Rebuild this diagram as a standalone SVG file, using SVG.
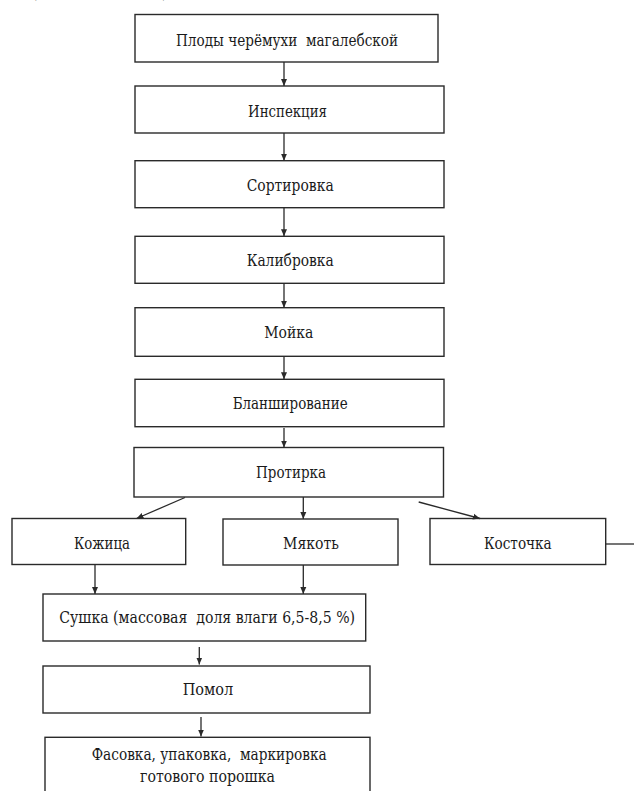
<svg xmlns="http://www.w3.org/2000/svg" width="634" height="791" viewBox="0 0 634 791">
<style>
.box{fill:#fff;stroke:#2a2a2a;stroke-width:1.4}
text{font-family:"DejaVu Serif",serif;font-size:16px;fill:#1a1a1a;white-space:pre}
.c{stroke:#2a2a2a;stroke-width:1.3;fill:none}
.a{marker-end:url(#ah)}
</style>
<defs>
<marker id="ah" markerUnits="userSpaceOnUse" markerWidth="8" markerHeight="8" viewBox="0 0 8 8" refX="7" refY="4" orient="auto">
<path d="M0,1 L7,4 L0,7 Z" fill="#2a2a2a"/>
</marker>
</defs>
<rect width="634" height="791" fill="#fff"/>
<text x="31" y="-2">(</text>
<text x="162" y="-2">)</text>
<g id="n1"><rect class="box" x="135" y="14.5" width="303" height="47.5"/><text x="176" y="46" textLength="222" lengthAdjust="spacingAndGlyphs">Плоды черёмухи  магалебской</text></g>
<g id="n2"><rect class="box" x="135" y="86" width="309" height="47"/><text x="248" y="117" textLength="79" lengthAdjust="spacingAndGlyphs">Инспекция</text></g>
<g id="n3"><rect class="box" x="135" y="160.7" width="309" height="47"/><text x="246.7" y="191" textLength="87" lengthAdjust="spacingAndGlyphs">Сортировка</text></g>
<g id="n4"><rect class="box" x="135" y="236.3" width="309" height="47"/><text x="246.7" y="266" textLength="87" lengthAdjust="spacingAndGlyphs">Калибровка</text></g>
<g id="n5"><rect class="box" x="135" y="307.7" width="309" height="48.6"/><text x="264.3" y="337.5" textLength="49" lengthAdjust="spacingAndGlyphs">Мойка</text></g>
<g id="n6"><rect class="box" x="135" y="379.3" width="309" height="47.4"/><text x="232.7" y="409" textLength="115" lengthAdjust="spacingAndGlyphs">Бланширование</text></g>
<g id="n7"><rect class="box" x="134" y="447.5" width="309.5" height="49.5"/><text x="256" y="478" textLength="70" lengthAdjust="spacingAndGlyphs">Протирка</text></g>
<g id="n8"><rect class="box" x="12" y="518.5" width="173.7" height="46"/><text x="74" y="548.5" textLength="56" lengthAdjust="spacingAndGlyphs">Кожица</text></g>
<g id="n9"><rect class="box" x="223" y="519" width="175" height="46"/><text x="283" y="549" textLength="56" lengthAdjust="spacingAndGlyphs">Мякоть</text></g>
<g id="n10"><rect class="box" x="430" y="518.5" width="175.7" height="46"/><text x="484" y="548.5" textLength="67.7" lengthAdjust="spacingAndGlyphs">Косточка</text></g>
<g id="n11"><rect class="box" x="43" y="594" width="322.7" height="47"/><text x="59.3" y="623.3" textLength="295.7" lengthAdjust="spacingAndGlyphs">Сушка (массовая  доля влаги 6,5-8,5 %)</text></g>
<g id="n12"><rect class="box" x="43" y="666" width="327" height="47"/><text x="182.7" y="695" textLength="50.6" lengthAdjust="spacingAndGlyphs">Помол</text></g>
<g id="n13"><rect class="box" x="45" y="737.3" width="325" height="60"/><text x="91.7" y="760" textLength="235" lengthAdjust="spacingAndGlyphs">Фасовка, упаковка,  маркировка</text><text x="140" y="781.7" textLength="135" lengthAdjust="spacingAndGlyphs">готового порошка</text></g>
<g id="connectors">
<line class="c a" x1="284" y1="62" x2="284" y2="86"/>
<line class="c a" x1="284" y1="133" x2="284" y2="160.7"/>
<line class="c a" x1="284" y1="207.7" x2="284" y2="236.3"/>
<line class="c a" x1="284" y1="283.3" x2="284" y2="307.7"/>
<line class="c a" x1="284" y1="356.3" x2="284" y2="379.3"/>
<line class="c a" x1="284" y1="428" x2="284" y2="447.5"/>
<line class="c a" x1="185" y1="497.5" x2="136.5" y2="518.5"/>
<line class="c a" x1="303.3" y1="497" x2="303.3" y2="519"/>
<line class="c a" x1="418.7" y1="502" x2="480" y2="518.5"/>
<line class="c" x1="605.7" y1="544" x2="634" y2="544"/>
<line class="c a" x1="95" y1="564.5" x2="95" y2="594"/>
<line class="c a" x1="303.3" y1="565" x2="303.3" y2="594"/>
<line class="c a" x1="199.3" y1="647" x2="199.3" y2="664.5"/>
<line class="c a" x1="201" y1="717" x2="201" y2="736.5"/>
</g>
</svg>
